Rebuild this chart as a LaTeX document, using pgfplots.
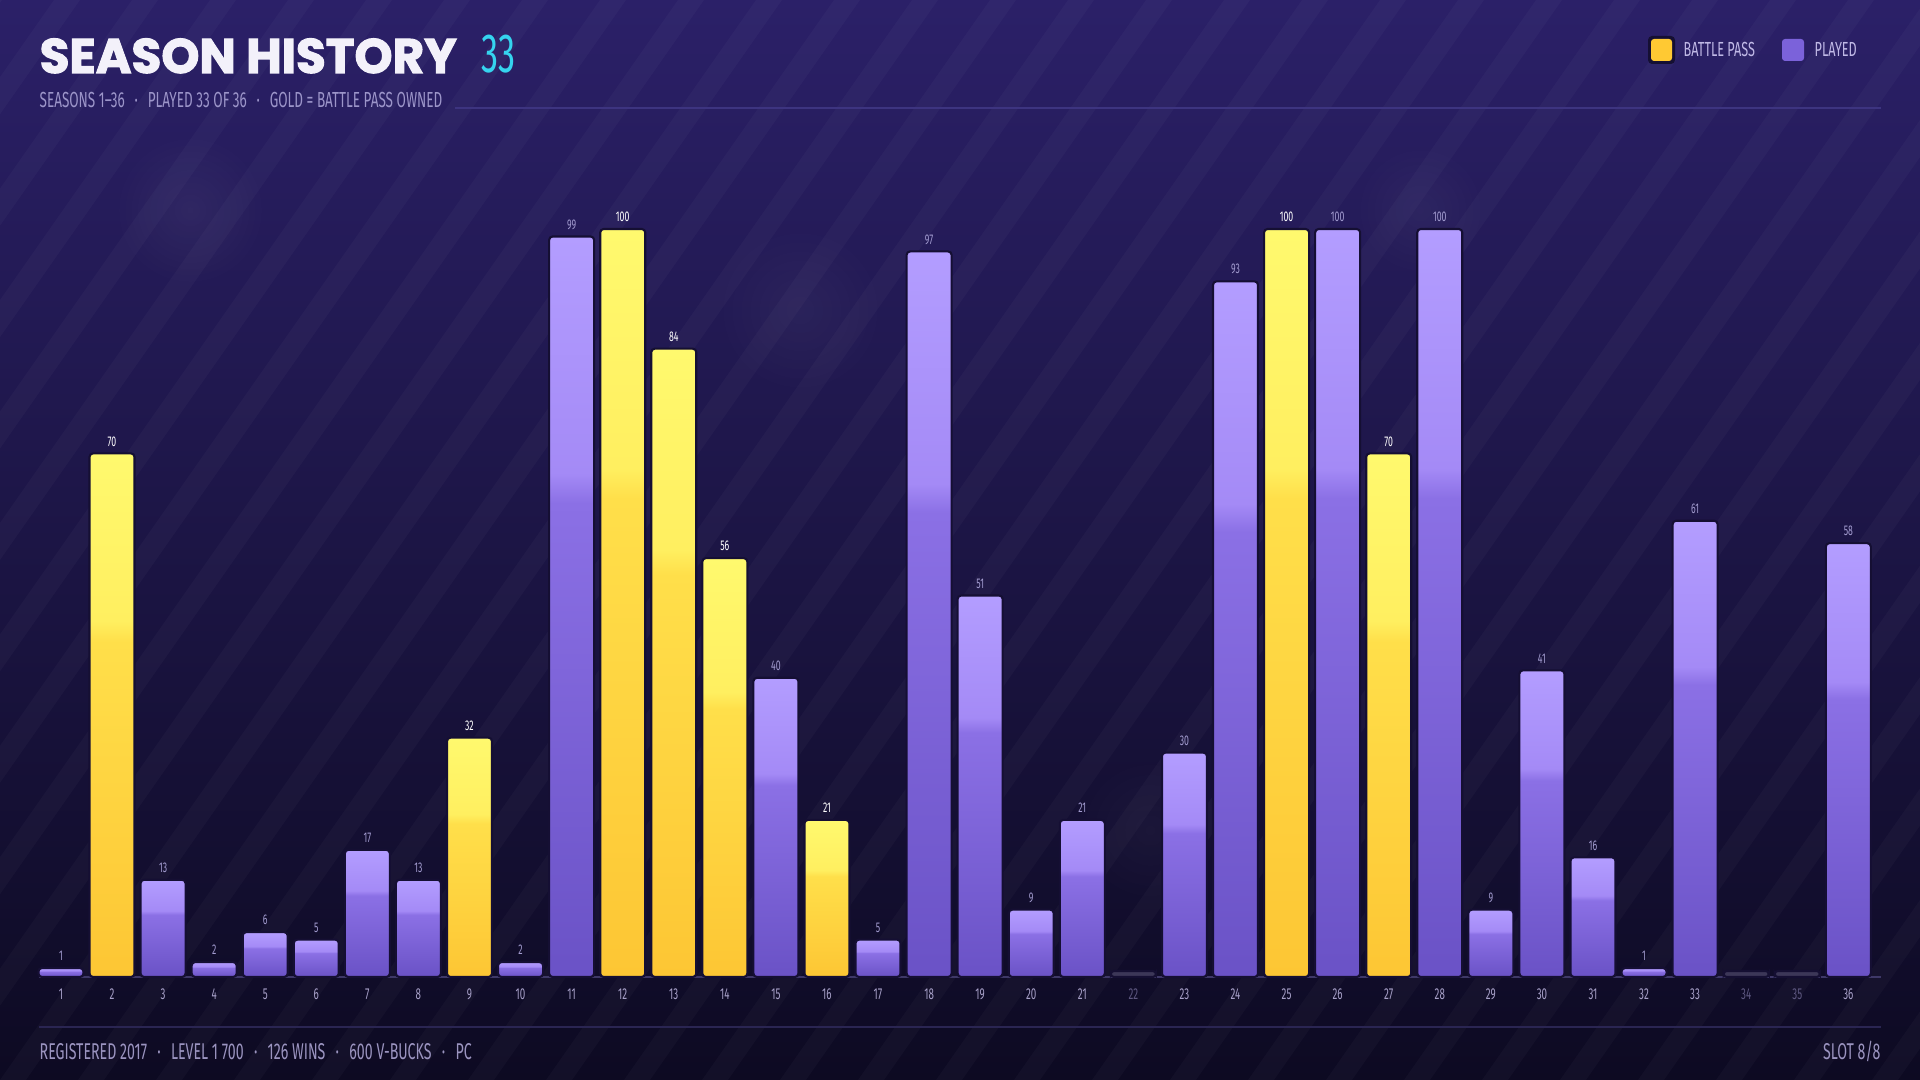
\documentclass[border=0pt]{standalone}
\usepackage{pgfplots}
\pgfplotsset{compat=1.18}
\usetikzlibrary{fadings}
\usepackage{fontspec}
\setmainfont{Fira Sans}
\newfontfamily\cond[FakeStretch=0.62]{Fira Sans}
\newfontfamily\titlefont[BoldFeatures={FakeBold=2.2}]{Poppins}
\definecolor{bgtop}{HTML}{2B2068}
\definecolor{bgbot}{HTML}{0D0A22}
\definecolor{outl}{HTML}{150F33}
\definecolor{pA}{HTML}{6A52C6}
\definecolor{pB}{HTML}{8B70E5}
\definecolor{pC}{HTML}{A48AF6}
\definecolor{pD}{HTML}{B39DFF}
\definecolor{gA}{HTML}{FDC634}
\definecolor{gB}{HTML}{FFDF4A}
\definecolor{gC}{HTML}{FFEF60}
\definecolor{gD}{HTML}{FFF96E}
\definecolor{placeh}{HTML}{3C3758}
\definecolor{ticklab}{HTML}{A7A0C8}
\definecolor{tickdim}{HTML}{5D5780}
\definecolor{vallab}{HTML}{A39CD0}
\definecolor{subtxt}{HTML}{9C95C9}
\definecolor{cyanx}{HTML}{35D4EF}
\definecolor{legtxt}{HTML}{C0B9E6}
\definecolor{foottxt}{HTML}{9B94C0}
\definecolor{divtop}{HTML}{3D3480}
\definecolor{divbot}{HTML}{2A2552}
\definecolor{axline}{HTML}{3E3868}
\definecolor{goldleg}{HTML}{FFC933}
\definecolor{purpleg}{HTML}{7B62DA}
\pgfdeclareverticalshading{purplebar}{100bp}{color(0bp)=(pA); color(25bp)=(pA); color(57bp)=(pB); color(59bp)=(pC); color(75bp)=(pD); color(100bp)=(pD)}
\pgfdeclareverticalshading{goldbar}{100bp}{color(0bp)=(gA); color(25bp)=(gA); color(57bp)=(gB); color(59bp)=(gC); color(75bp)=(gD); color(100bp)=(gD)}
\tikzfading[name=fuzzy, inner color=transparent!0, outer color=transparent!100]
\pgfplotsset{
  basebar/.style={ybar, bar width=0.45cm, bar shift=0pt, draw=outl, line width=0.6pt, rounded corners=0.035cm,
    nodes near coords, point meta=explicit symbolic},
  pbar/.style={basebar, shading=purplebar,
    nodes near coords style={font=\cond\fontsize{4.0}{4.5}\selectfont, text=vallab, inner sep=0pt, anchor=south, yshift=0.06cm}},
  gbar/.style={basebar, shading=goldbar,
    nodes near coords style={font=\cond\fontsize{4.0}{4.5}\selectfont, text=white, inner sep=0pt, anchor=south, yshift=0.06cm}},
}
\begin{document}
\begin{tikzpicture}
% background
\shade[top color=bgtop, bottom color=bgbot] (0,0) rectangle (19.2,10.8);
\begin{scope}
\clip (0,0) rectangle (19.2,10.8);
\foreach \i in {-11,...,26} {
  \fill[white, opacity=0.028] (\i*0.78,0) -- ++(0.26,0) -- ++(7.56,10.8) -- ++(-0.26,0) -- cycle;
}
\fill[white, opacity=0.05, path fading=fuzzy] (1.9,8.7) circle (0.8);
\fill[white, opacity=0.04, path fading=fuzzy] (8.0,7.7) circle (0.9);
\fill[white, opacity=0.04, path fading=fuzzy] (14.2,8.7) circle (0.7);
\fill[white, opacity=0.03, path fading=fuzzy] (11.5,2.5) circle (0.8);
\end{scope}
% header
\node[anchor=base west, inner sep=0pt, text={rgb,255:red,243;green,241;blue,250}, font=\titlefont\bfseries\fontsize{13.8}{14}\selectfont] at (0.39,10.07) {SEASON HISTORY};
\node[anchor=base west, inner sep=0pt, text=cyanx, font=\cond\fontsize{15.7}{16}\selectfont] at (4.81,10.07) {33};
\node[anchor=base west, inner sep=0pt, text=subtxt, font=\cond\fontsize{6.2}{7}\selectfont] at (0.39,9.72) {SEASONS 1–36\hspace{0.45em}·\hspace{0.45em}PLAYED 33 OF 36\hspace{0.45em}·\hspace{0.45em}GOLD = BATTLE PASS OWNED};
\draw[divtop, line width=0.6pt] (4.55,9.72) -- (18.81,9.72);
% legend
\fill[outl, rounded corners=0.04cm] (16.48,10.44) rectangle (16.75,10.16);
\fill[goldleg, rounded corners=0.03cm] (16.51,10.41) rectangle (16.72,10.19);
\node[anchor=base west, inner sep=0pt, text=legtxt, font=\cond\fontsize{5.8}{6}\selectfont] at (16.83,10.23) {BATTLE PASS};
\fill[purpleg, rounded corners=0.03cm] (17.82,10.41) rectangle (18.04,10.19);
\node[anchor=base west, inner sep=0pt, text=legtxt, font=\cond\fontsize{5.8}{6}\selectfont] at (18.14,10.23) {PLAYED};
% footer
\draw[divbot, line width=0.6pt] (0.39,0.53) -- (18.81,0.53);
\node[anchor=base west, inner sep=0pt, text=foottxt, font=\cond\fontsize{6.5}{7}\selectfont] at (0.39,0.20) {REGISTERED 2017\hspace{0.45em}·\hspace{0.45em}LEVEL 1 700\hspace{0.45em}·\hspace{0.45em}126 WINS\hspace{0.45em}·\hspace{0.45em}600 V-BUCKS\hspace{0.45em}·\hspace{0.45em}PC};
\node[anchor=base east, inner sep=0pt, text=foottxt, font=\cond\fontsize{6.5}{7}\selectfont] at (18.81,0.20) {SLOT 8/8};
\begin{axis}[
  at={(0.39cm,1.03cm)}, anchor=south west,
  scale only axis, width=18.42cm, height=7.48cm,
  xmin=0.57, xmax=36.64, ymin=0, ymax=100,
  clip=false,
  axis y line=none,
  axis x line=bottom,
  x axis line style={-, color=axline, line width=0.6pt},
  /pgf/number format/assume math mode=true,
  xtick={1,...,36},
  major tick length=0pt,
  xticklabels={1,2,3,4,5,6,7,8,9,10,11,12,13,14,15,16,17,18,19,20,21,\textcolor{tickdim}{22},23,24,25,26,27,28,29,30,31,32,33,\textcolor{tickdim}{34},\textcolor{tickdim}{35},36},
  xticklabel style={font=\cond\fontsize{4.5}{5}\selectfont, text=ticklab, inner sep=0pt, anchor=north, yshift=-0.11cm},
]
% seasons not played (placeholders)
\addplot[ybar, bar width=0.45cm, bar shift=0pt, draw=outl, line width=0.6pt, rounded corners=0.03cm, fill=placeh]
  coordinates {(22,0.8) (34,0.8) (35,0.8)};
% played seasons: season / bar height / label
\foreach \s/\v/\m in {1/1.2/1, 3/13/13, 4/2/2, 5/6/6, 6/5/5, 7/17/17, 8/13/13, 10/2/2, 11/99/99, 15/40/40,
  17/5/5, 18/97/97, 19/51/51, 20/9/9, 21/21/21, 23/30/30, 24/93/93, 26/100/100, 28/100/100, 29/9/9,
  30/41/41, 31/16/16, 32/1.2/1, 33/61/61, 36/58/58} {
  \edef\doplot{\noexpand\addplot[pbar] coordinates {(\s,\v) [\m]};}\doplot
}
% battle pass seasons
\foreach \s/\v/\m in {2/70/70, 9/32/32, 12/100/100, 13/84/84, 14/56/56, 16/21/21, 25/100/100, 27/70/70} {
  \edef\doplot{\noexpand\addplot[gbar] coordinates {(\s,\v) [\m]};}\doplot
}
\end{axis}
\end{tikzpicture}
\end{document}
